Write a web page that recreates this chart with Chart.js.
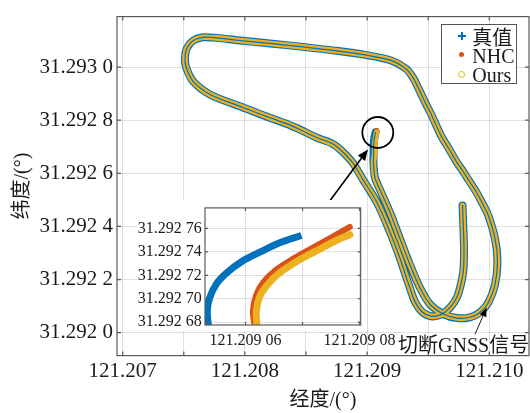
<!DOCTYPE html>
<html><head><meta charset="utf-8">
<script src="https://cdn.jsdelivr.net/npm/chart.js@4.4.1/dist/chart.umd.min.js"></script>
<style>
html,body{margin:0;padding:0;background:#fff;}
#wrap{position:relative;width:530px;height:413px;overflow:hidden;font-family:"Liberation Serif","Noto Sans CJK SC",serif;color:#1a1a1a;}
#main{position:absolute;left:0;top:0;}
#inset{position:absolute;left:130px;top:195px;}
.abs{position:absolute;white-space:nowrap;}
.txt{font-size:20px;line-height:20px;}
#legbox{left:440.7px;top:24.3px;width:76.6px;height:60px;border:1.2px solid #555;background:#fff;box-sizing:border-box;}
</style></head>
<body><div id="wrap">
<canvas id="main" width="530" height="413"></canvas>
<canvas id="inset" width="275" height="157"></canvas>
<div id="legbox" class="abs"></div>
<div class="abs" style="left:458px;top:35px;width:8px;height:2px;background:#0072BD"></div>
<div class="abs" style="left:461px;top:32px;width:2px;height:8px;background:#0072BD"></div>
<div class="abs txt" style="left:472.3px;top:28px;">真值</div>
<div class="abs" style="left:459.2px;top:52px;width:5px;height:5px;border-radius:50%;background:#D95319"></div>
<div class="abs txt" style="left:472.3px;top:45.6px;">NHC</div>
<div class="abs" style="left:458.2px;top:70.5px;width:7px;height:7px;border-radius:50%;border:1.4px solid #EDB120;box-sizing:border-box"></div>
<div class="abs txt" style="left:472.3px;top:64.8px;">Ours</div>
<div class="abs txt" style="left:398px;top:335px;">切断GNSS信号</div>
</div>
<script>
// ---- data (longitude / latitude, degrees) ----
const pathLon = [121.209781,121.209787,121.209793,121.209789,121.209768,121.209736,121.209678,121.209605,121.209523,121.209449,121.209392,121.209351,121.209310,121.209269,121.209187,121.209081,121.208966,121.208885,121.208795,121.208713,121.208590,121.208435,121.208345,121.208165,121.207985,121.207714,121.207575,121.207518,121.207510,121.207526,121.207575,121.207657,121.207796,121.207935,121.208205,121.208475,121.208737,121.208983,121.209196,121.209318,121.209376,121.209417,121.209474,121.209531,121.209605,121.209678,121.209728,121.209789,121.209830,121.209897,121.209940,121.209992,121.210047,121.210067,121.210047,121.209992,121.209924,121.209842,121.209736,121.209624,121.209515,121.209433,121.209351,121.209269,121.209187,121.209106,121.209065,121.209052];
const pathLat = [31.292479,31.292405,31.292323,31.292238,31.292183,31.292134,31.292094,31.292068,31.292062,31.292079,31.292116,31.292168,31.292223,31.292280,31.292379,31.292490,31.292576,31.292638,31.292683,31.292712,31.292734,31.292768,31.292786,31.292816,31.292848,31.292897,31.292947,31.293001,31.293038,31.293072,31.293099,31.293112,31.293109,31.293101,31.293089,31.293076,31.293062,31.293046,31.293025,31.292994,31.292960,31.292923,31.292868,31.292816,31.292742,31.292686,31.292646,31.292605,31.292575,31.292527,31.292490,31.292441,31.292354,31.292268,31.292181,31.292113,31.292076,31.292058,31.292055,31.292070,31.292107,31.292169,31.292256,31.292354,31.292453,31.292538,31.292583,31.292638];

const truthTailLon = [121.2090535,121.2090533,121.2090537,121.2090549,121.2090567,121.2090593,121.2090625,121.2090660,121.2090698];
const truthTailLat = [31.2926770,31.2926897,31.2927005,31.2927127,31.2927221,31.2927316,31.2927397,31.2927478,31.2927540];
const nhcTailLon   = [121.2090616,121.2090613,121.2090619,121.2090631,121.2090654,121.2090684,121.2090719,121.2090754,121.2090783];
const nhcTailLat   = [31.2926770,31.2926897,31.2927033,31.2927140,31.2927248,31.2927343,31.2927438,31.2927532,31.2927613];
const oursTailLon  = [121.2090620,121.2090619,121.2090625,121.2090640,121.2090660,121.2090689,121.2090725,121.2090760,121.2090783];
const oursTailLat  = [31.2926770,31.2926897,31.2927019,31.2927127,31.2927221,31.2927316,31.2927410,31.2927499,31.2927546];

const seriesNames = ['真值','NHC','Ours'];
const colors = {truth:'#0072BD', nhc:'#D95319', ours:'#EDB120'};

// axis limits / ticks
const mainX = {min:121.2069534, max:121.210325, step:0.0005};
const mainY = {min:31.2919137, max:31.29319, step:0.0002};
const insetX = {min:121.2090529, max:121.2090802, step:0.00001};
const insetY = {min:31.2926776, max:31.2927775, step:0.00002};

// annotations (data coords)
const circleAt = [121.2090876, 31.2927537];
const arrowZoom = [[121.2086759, 31.2924844],[121.2090074, 31.2926900]];
const arrowGnss = [[121.209883, 31.2919937],[121.2099787, 31.2920948]];

function pts(lon, lat){ return lon.map((v,i)=>({x:v, y:lat[i]})); }
const truthAll = pts(pathLon.concat(truthTailLon), pathLat.concat(truthTailLat));
const nhcAll = pts(pathLon.concat(nhcTailLon), pathLat.concat(nhcTailLat));
const oursAll = pts(pathLon.concat(oursTailLon), pathLat.concat(oursTailLat));

const FONT = '"Liberation Serif","Noto Sans CJK SC",serif';
Chart.defaults.font.family = FONT;
Chart.defaults.color = '#1a1a1a';
const GRID = 'rgba(38,38,38,0.15)';
const FRAME = '#5a5a5a';

function arrow(ctx, x0,y0,x1,y1, len, half, lw){
  const a = Math.atan2(y1-y0, x1-x0);
  const bx = x1 - len*Math.cos(a), by = y1 - len*Math.sin(a);
  ctx.lineWidth = lw; ctx.strokeStyle = '#000'; ctx.fillStyle = '#000';
  ctx.beginPath(); ctx.moveTo(x0,y0); ctx.lineTo(bx,by); ctx.stroke();
  ctx.beginPath(); ctx.moveTo(x1,y1);
  ctx.lineTo(bx + half*Math.sin(a), by - half*Math.cos(a));
  ctx.lineTo(bx - half*Math.sin(a), by + half*Math.cos(a));
  ctx.closePath(); ctx.fill();
}

function frameTicks(chart, len){
  const {ctx, chartArea:a, scales:{x,y}} = chart;
  ctx.save();
  ctx.strokeStyle = FRAME; ctx.lineWidth = 1.2;
  ctx.strokeRect(a.left, a.top, a.right-a.left, a.bottom-a.top);
  ctx.beginPath();
  x.ticks.forEach(t=>{const p=x.getPixelForValue(t.value); ctx.moveTo(p,a.bottom); ctx.lineTo(p,a.bottom-len); ctx.moveTo(p,a.top); ctx.lineTo(p,a.top+len);});
  y.ticks.forEach(t=>{const p=y.getPixelForValue(t.value); ctx.moveTo(a.left,p); ctx.lineTo(a.left+len,p); ctx.moveTo(a.right,p); ctx.lineTo(a.right-len,p);});
  ctx.stroke();
  ctx.restore();
}

const mainPlugin = {
  id:'mainDeco',
  afterDraw(chart){
    frameTicks(chart, 4);
    const {ctx, scales:{x,y}} = chart;
    ctx.save();
    ctx.strokeStyle = '#000'; ctx.lineWidth = 1.8;
    ctx.beginPath(); ctx.arc(x.getPixelForValue(circleAt[0]), y.getPixelForValue(circleAt[1]), 15.5, 0, Math.PI*2); ctx.stroke();
    arrow(ctx, x.getPixelForValue(arrowZoom[0][0]), y.getPixelForValue(arrowZoom[0][1]), x.getPixelForValue(arrowZoom[1][0]), y.getPixelForValue(arrowZoom[1][1]), 11, 4.5, 1.6);
    arrow(ctx, x.getPixelForValue(arrowGnss[0][0]), y.getPixelForValue(arrowGnss[0][1]), x.getPixelForValue(arrowGnss[1][0]), y.getPixelForValue(arrowGnss[1][1]), 9, 3.5, 0.9);
    ctx.restore();
  }
};

new Chart(document.getElementById('main'), {
  type:'scatter',
  data:{datasets:[
    {label:seriesNames[0], data:truthAll, borderColor:colors.truth, borderWidth:8, order:4},
    {label:seriesNames[1], data:nhcAll, borderColor:colors.nhc, borderWidth:5, order:3},
    {label:seriesNames[2], data:oursAll, borderColor:colors.ours, borderWidth:5.6, order:2},
    {label:seriesNames[0]+'-center', data:truthAll, borderColor:colors.truth, borderWidth:1.2, order:1}
  ]},
  options:{
    responsive:false, animation:false, devicePixelRatio:1,
    showLine:true,
    layout:{padding:{left:0, top:11, right:1, bottom:0}},
    plugins:{legend:{display:false}, tooltip:{enabled:false}},
    elements:{point:{radius:0}, line:{tension:0.3, borderJoinStyle:'round', borderCapStyle:'round'}},
    scales:{
      x:{type:'linear', min:mainX.min, max:mainX.max,
        afterFit(s){ s.height = 57.4; },
        border:{display:false},
        grid:{color:GRID, drawTicks:false},
        ticks:{stepSize:mainX.step, includeBounds:false, autoSkip:false, maxRotation:0, padding:3, font:{size:21}, color:'#1a1a1a',
          callback(v){ return Math.round(v*1e4)%10===0 ? v.toFixed(3) : ''; }},
        title:{display:true, text:'经度/(°)', font:{size:20}, padding:{top:0,bottom:0}, color:'#1a1a1a'}
      },
      y:{type:'linear', min:mainY.min, max:mainY.max,
        afterFit(s){ s.width = 117; },
        border:{display:false},
        grid:{color:GRID, drawTicks:false},
        ticks:{stepSize:mainY.step, includeBounds:false, autoSkip:false, padding:4, font:{size:21}, color:'#1a1a1a',
          callback(v){ const s=v.toFixed(4); return s.slice(0,-1)+' '+s.slice(-1); }},
        title:{display:true, text:'纬度/(°)', font:{size:20}, padding:{top:11,bottom:0}, color:'#1a1a1a'}
      }
    }
  },
  plugins:[mainPlugin]
});

const insetPlugin = {
  id:'insetDeco',
  beforeDraw(chart){
    const {ctx, chartArea:a} = chart;
    ctx.save(); ctx.fillStyle = '#fff';
    ctx.fillRect(7, 5, a.right + 1 - 7, 136 - 5);
    ctx.restore();
  },
  afterDraw(chart){ frameTicks(chart, 3); }
};

new Chart(document.getElementById('inset'), {
  type:'scatter',
  data:{datasets:[
    {label:seriesNames[0], data:pts(truthTailLon, truthTailLat), borderColor:colors.truth, borderWidth:7, borderCapStyle:'butt', order:3},
    {label:seriesNames[1], data:pts(nhcTailLon, nhcTailLat), borderColor:colors.nhc, borderWidth:6, order:2},
    {label:seriesNames[2], data:pts(oursTailLon, oursTailLat), borderColor:colors.ours, borderWidth:7, order:1}
  ]},
  options:{
    responsive:false, animation:false, devicePixelRatio:1,
    showLine:true,
    layout:{padding:{left:0, top:6.7, right:44.3, bottom:0}},
    plugins:{legend:{display:false}, tooltip:{enabled:false}},
    elements:{point:{radius:0}, line:{tension:0.35, borderJoinStyle:'round', borderCapStyle:'round'}},
    scales:{
      x:{type:'linear', min:insetX.min, max:insetX.max,
        afterFit(s){ s.height = 27; },
        border:{display:false},
        grid:{color:GRID, drawTicks:false},
        ticks:{stepSize:insetX.step, includeBounds:false, autoSkip:false, maxRotation:0, padding:6, font:{size:16}, color:'#1a1a1a',
          callback(v){ if (Math.round(v*1e5)%2!==0) return ''; const s=v.toFixed(5); return s.slice(0,-2)+' '+s.slice(-2); }}
      },
      y:{type:'linear', min:insetY.min, max:insetY.max,
        afterFit(s){ s.width = 75; },
        border:{display:false},
        grid:{color:GRID, drawTicks:false},
        ticks:{stepSize:insetY.step, includeBounds:false, autoSkip:false, padding:3.3, font:{size:16}, color:'#1a1a1a',
          callback(v){ const s=v.toFixed(5); return s.slice(0,-2)+' '+s.slice(-2); }}
      }
    }
  },
  plugins:[insetPlugin]
});
</script>
</body></html>
